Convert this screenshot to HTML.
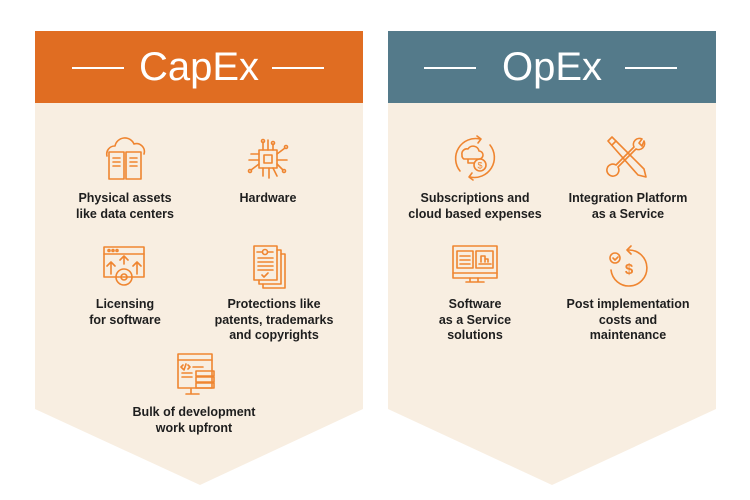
<!DOCTYPE html>
<html><head><meta charset="utf-8"><style>
*{margin:0;padding:0;box-sizing:border-box}
body{width:750px;height:500px;background:#fff;position:relative;overflow:hidden;font-family:"Liberation Sans",Arial,sans-serif}
.t{position:absolute;transform:translateX(-50%);text-align:center;font-weight:bold;font-size:12.5px;line-height:15.5px;color:#1e1e1e;white-space:nowrap}
.h{position:absolute;top:31px;height:72px;color:#fff;font-size:40px;line-height:72px;text-align:center}
.ln{position:absolute;top:67px;height:2px;width:52px;background:#fff}
svg.i{position:absolute;fill:none;stroke:#EF8530;stroke-width:1.6;stroke-linecap:round;stroke-linejoin:round}
</style></head><body>
<svg width="750" height="500" style="position:absolute;left:0;top:0">
<polygon points="35,31 363,31 363,409 200,485 35,409" fill="#F8EEE1"/>
<polygon points="388,31 716,31 716,409 552,485 388,409" fill="#F8EEE1"/>
<rect x="35" y="31" width="328" height="72" fill="#E06D22"/>
<rect x="388" y="31" width="328" height="72" fill="#547A8A"/>
</svg>
<div class="h" style="left:35px;width:328px">CapEx</div>
<div class="ln" style="left:72px"></div><div class="ln" style="left:272px"></div>
<div class="h" style="left:388px;width:328px">OpEx</div>
<div class="ln" style="left:424px"></div><div class="ln" style="left:625px"></div>

<!-- icons -->
<svg class="i" style="left:103px;top:136px" width="46" height="46"><path d="M4 20a8 8 0 0 1 8-10a10 10 0 0 1 19-2a8 8 0 0 1 10 10"/><rect x="6" y="16" width="15" height="27"/><rect x="23" y="16" width="15" height="27"/><path d="M10 22h7M10 26h7M10 30h7M27 22h7M27 26h7M27 30h7"/></svg>
<svg class="i" style="left:245px;top:136px" width="46" height="46"><rect x="14" y="14" width="18" height="18"/><rect x="19" y="19" width="8" height="8"/><path d="M18 14V6M23 14V4M28 14V8M32 18l8-6M32 24h10M32 28l6 6M18 32v8M24 32v10M28 32l4 8M14 18H6M14 24H4M14 28l-8 6"/><circle cx="18" cy="5" r="1.5"/><circle cx="28" cy="7" r="1.5"/><circle cx="41" cy="11" r="1.5"/><circle cx="5" cy="35" r="1.5"/><circle cx="39" cy="35" r="1.5"/></svg>
<svg class="i" style="left:101px;top:244px" width="46" height="46"><rect x="3" y="3" width="40" height="30"/><path d="M3 10h40"/><circle cx="8" cy="6.5" r="1"/><circle cx="12" cy="6.5" r="1"/><circle cx="16" cy="6.5" r="1"/><path d="M10 30V18l-4 4M10 18l4 4M36 30V18l-4 4M36 18l4 4M23 20V12l-4 4M23 12l4 4"/><circle cx="23" cy="33" r="8"/><circle cx="23" cy="33" r="3"/></svg>
<svg class="i" style="left:250px;top:244px" width="40" height="46"><path d="M13 40v4h22V10h-4"/><path d="M9 36v4h22V6h-4"/><rect x="4" y="2" width="23" height="34"/><circle cx="15" cy="8" r="2.5"/><path d="M7 8h5M18 8h5M8 14h15M8 18h15M8 22h15M8 26h15M12 31l2 2 4-4"/></svg>
<svg class="i" style="left:174px;top:351px" width="44" height="46"><rect x="4" y="3" width="34" height="34"/><path d="M4 9h34"/><path d="M9 14l-2 2 2 2M12 13l-2 6M14 14l2 2-2 2M19 16h10M8 22h10M8 26h10M17 38v4M12 43h13"/><rect x="22" y="20" width="18" height="5"/><rect x="22" y="26" width="18" height="5"/><rect x="22" y="32" width="18" height="5"/></svg>

<svg class="i" style="left:450px;top:133px" width="50" height="50"><path d="M10 38A20 20 0 0 1 30 6M40 12A20 20 0 0 1 20 44"/><path d="M27 3l4 3-3 4M23 47l-4-3 3-4"/><path d="M12 22a5 5 0 0 1 6-6a6 6 0 0 1 11 2a4 4 0 0 1 0 8H14a4 4 0 0 1-2-4zM18 26v4h6"/><circle cx="30" cy="32" r="6"/><text x="30" y="35.5" font-size="9" text-anchor="middle" fill="#EF8530" stroke="none" font-family="Liberation Sans">$</text></svg>
<svg class="i" style="left:604px;top:133px" width="48" height="48"><path d="M4 8l4-4 32 32 2 8-8-2z"/><path d="M8 12l4-4"/><path d="M40 8a6 6 0 0 1-8 8L14 34a6 6 0 1 1-2-2l18-18a6 6 0 0 1 8-8l-3 4 3 3z"/></svg>
<svg class="i" style="left:450px;top:244px" width="50" height="44"><rect x="3" y="2" width="44" height="32"/><path d="M3 29h44M20 34v4M28 34v4M16 38h18"/><rect x="7" y="7" width="16" height="17"/><rect x="26" y="7" width="17" height="17"/><path d="M10 12h10M10 16h10M10 20h10M31 18v-6h4v6M35 15h3v3M29 20h12"/></svg>
<svg class="i" style="left:603px;top:242px" width="50" height="50"><path d="M26 8A18 18 0 1 1 8 28"/><path d="M28 4l-4 4 4 4"/><circle cx="12" cy="16" r="5"/><path d="M10 16l2 2 3-3"/><text x="26" y="32" font-size="15" text-anchor="middle" fill="#EF8530" stroke="none" font-weight="bold" font-family="Liberation Sans">$</text></svg>

<!-- labels -->
<div class="t" style="left:125px;top:191px">Physical assets<br>like data centers</div>
<div class="t" style="left:268px;top:191px">Hardware</div>
<div class="t" style="left:125px;top:297px">Licensing<br>for software</div>
<div class="t" style="left:274px;top:297px">Protections like<br>patents, trademarks<br>and copyrights</div>
<div class="t" style="left:194px;top:405px">Bulk of development<br>work upfront</div>
<div class="t" style="left:475px;top:191px">Subscriptions and<br>cloud based expenses</div>
<div class="t" style="left:628px;top:191px">Integration Platform<br>as a Service</div>
<div class="t" style="left:475px;top:297px">Software<br>as a Service<br>solutions</div>
<div class="t" style="left:628px;top:297px">Post implementation<br>costs and<br>maintenance</div>
</body></html>
